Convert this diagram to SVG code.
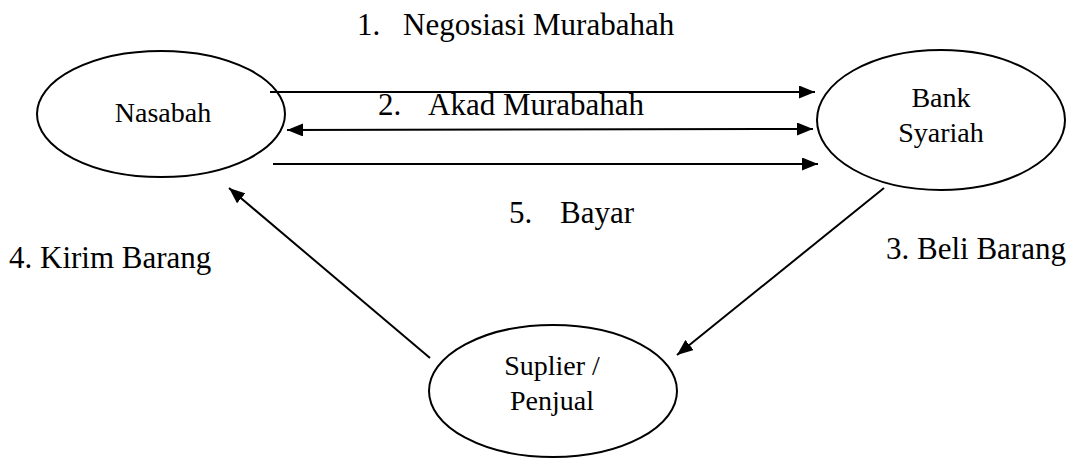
<svg xmlns="http://www.w3.org/2000/svg" width="1078" height="458" viewBox="0 0 1078 458">
<style>
.node{fill:#fff;stroke:#000;stroke-width:2}
.nt{font-family:"Liberation Serif","DejaVu Serif",serif;font-size:28px;fill:#000;text-anchor:middle}
.lb{font-family:"Liberation Serif","DejaVu Serif",serif;font-size:31px;fill:#000}
.edge{stroke:#000;stroke-width:2;fill:none}
</style>
<defs>
<marker id="ah" markerUnits="userSpaceOnUse" markerWidth="17" markerHeight="13" refX="16" refY="6.5" orient="auto-start-reverse">
<path d="M0,0 L16,6.5 L0,13 z" fill="#000"/>
</marker>
</defs>
<rect width="1078" height="458" fill="#fff"/>
<g id="nasabah">
<ellipse class="node" cx="161" cy="114" rx="124" ry="63"/>
<text class="nt" x="163" y="122" font-family="Liberation Serif, serif">Nasabah</text>
</g>
<g id="bank-syariah">
<ellipse class="node" cx="941" cy="120" rx="124" ry="70"/>
<text class="nt" x="941" y="107" font-family="Liberation Serif, serif">Bank</text>
<text class="nt" x="941" y="142" font-family="Liberation Serif, serif">Syariah</text>
</g>
<g id="suplier">
<ellipse class="node" cx="553" cy="391" rx="124" ry="66"/>
<text class="nt" x="552" y="375" font-family="Liberation Serif, serif">Suplier /</text>
<text class="nt" x="552" y="410" font-family="Liberation Serif, serif">Penjual</text>
</g>
<g id="connectors">
<line class="edge" x1="270" y1="92" x2="815" y2="92" marker-end="url(#ah)"/>
<line class="edge" x1="287" y1="130" x2="813" y2="129" marker-start="url(#ah)" marker-end="url(#ah)"/>
<line class="edge" x1="273" y1="164" x2="818" y2="164" marker-end="url(#ah)"/>
<line class="edge" x1="884" y1="188" x2="677" y2="355" marker-end="url(#ah)"/>
<line class="edge" x1="430" y1="358" x2="229" y2="188" marker-end="url(#ah)"/>
</g>
<g id="labels">
<text class="lb" y="35" font-family="Liberation Serif, serif"><tspan x="357">1.</tspan><tspan x="403">Negosiasi Murabahah</tspan></text>
<text class="lb" y="115" font-family="Liberation Serif, serif"><tspan x="378">2.</tspan><tspan x="428">Akad Murabahah</tspan></text>
<text class="lb" y="223" font-family="Liberation Serif, serif"><tspan x="509">5.</tspan><tspan x="560">Bayar</tspan></text>
<text class="lb" x="9" y="268" font-size="32" font-family="Liberation Serif, serif">4. Kirim Barang</text>
<text class="lb" x="886" y="259" font-family="Liberation Serif, serif">3. Beli Barang</text>
</g>
</svg>
